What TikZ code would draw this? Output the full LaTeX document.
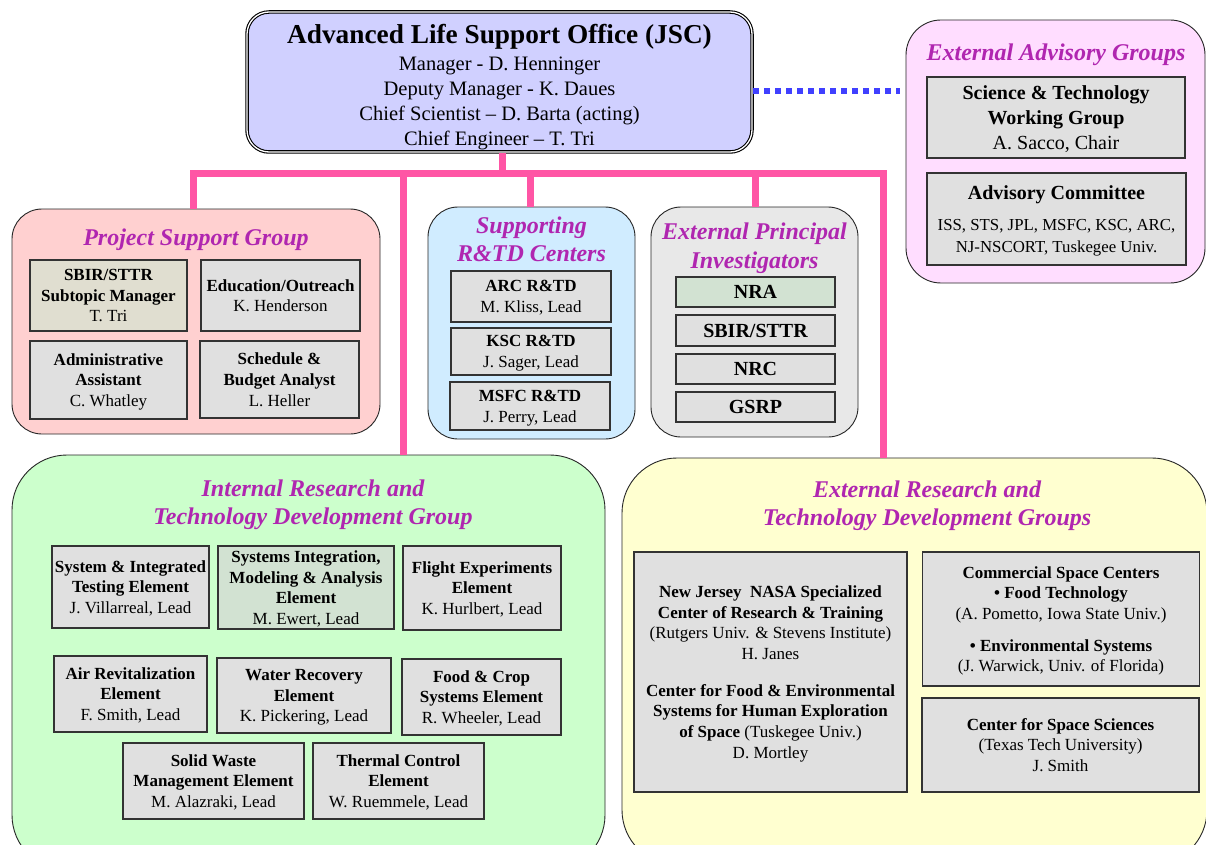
\documentclass[tikz,border=0pt]{standalone}
\usepackage{fontspec}
\setmainfont{Liberation Serif}
\definecolor{lav}{RGB}{208,208,255}
\definecolor{advpink}{RGB}{255,221,255}
\definecolor{psgpink}{RGB}{255,208,208}
\definecolor{supblue}{RGB}{208,236,255}
\definecolor{pigray}{RGB}{232,232,232}
\definecolor{intgreen}{RGB}{204,255,204}
\definecolor{extyel}{RGB}{255,255,208}
\definecolor{gbox}{RGB}{224,224,224}
\definecolor{beige}{RGB}{224,222,208}
\definecolor{pgreen}{RGB}{210,226,210}
\definecolor{pinkc}{RGB}{255,85,165}
\definecolor{bluec}{RGB}{64,64,255}
\definecolor{tpurp}{RGB}{176,38,176}
\begin{document}
\begin{tikzpicture}[x=1pt,y=-1pt,
  grp/.style={draw=black!85, line width=0.9pt, inner sep=0pt},
  ib/.style={draw=black!80, line width=1.4pt, fill=gbox, inner sep=0pt, align=center, text depth=0pt, font=\fontsize{17}{20.7}\selectfont},
  ttl/.style={text=tpurp, align=center, font=\fontsize{24}{28.5}\selectfont\bfseries\itshape, inner sep=0pt},
  pk/.style={draw=pinkc, line width=7pt},
  dotline/.style={draw=bluec, line width=6pt, dash pattern=on 6pt off 5pt}]
\useasboundingbox (0,0) rectangle (1206,845);
\fill[white] (0,0) rectangle (1206,845);
\clip (0,0) rectangle (1206,845);

% ---------- group containers ----------
\node[grp, fill=psgpink, rounded corners=30pt, minimum width=368, minimum height=225] (psg) at (196,321.5) {};
\node[grp, fill=supblue, rounded corners=30pt, minimum width=207, minimum height=232] (sup) at (531.5,323) {};
\node[grp, fill=pigray, rounded corners=30pt, minimum width=207, minimum height=230] (epi) at (754.5,322) {};
\node[grp, fill=intgreen, rounded corners=55pt, minimum width=593, minimum height=415] (int) at (308.5,662.5) {};
\node[grp, fill=extyel, rounded corners=55pt, minimum width=585, minimum height=407] (ert) at (914.5,661.5) {};
\node[grp, fill=advpink, rounded corners=35pt, minimum width=299, minimum height=263] (eag) at (1055.5,151.5) {};

% ---------- top office ----------
\node[draw=black, double=white, double distance=1.3pt, line width=1.1pt, fill=lav, rounded corners=22pt,
      minimum width=505, minimum height=140, inner sep=0pt, align=center, text depth=0pt,
      font=\fontsize{20.5}{25}\selectfont] (alo) at (499.5,82)
  {\rule{0pt}{25pt}{\fontsize{27.3}{25}\selectfont\bfseries Advanced Life Support Office (JSC)}\\[1.5pt]
   Manager - D. Henninger\\
   Deputy Manager - K. Daues\\
   Chief Scientist – D. Barta (acting)\\
   Chief Engineer – T. Tri};

% ---------- connectors ----------
\coordinate (j0) at (502,174);
\coordinate (j1) at (193,174);
\coordinate (j2) at (403,174);
\coordinate (j3) at (530,174);
\coordinate (j4) at (755,174);
\coordinate (j5) at (883,174);
\draw[pk] (alo.south -| j0) -- (j0);
\draw[pk] (j1 |- psg.north) -- (j1) -- (j5) -- (j5 |- ert.north);
\draw[pk] (j2) -- (j2 |- int.north);
\draw[pk] (j3) -- (j3 |- sup.north);
\draw[pk] (j4) -- (j4 |- epi.north);
\coordinate (b1) at (753,91);
\coordinate (b2) at (900,91);
\draw[dotline] (b1) -- (b2);

% ---------- external advisory ----------
\node[ttl] (eagT) at (1056,55) {External Advisory Groups};
\node[ib, minimum width=258, minimum height=81, text depth=-2pt, font=\fontsize{20}{25}\selectfont] (stwg) at (1056,117.5)
  {\textbf{Science \& Technology}\\\textbf{Working Group}\\A. Sacco, Chair};
\node[ib, minimum width=259, minimum height=92, text depth=-2.5pt, font=\fontsize{16.8}{22}\selectfont] (advc) at (1056.5,219)
  {{\fontsize{20}{25}\selectfont\bfseries Advisory Committee}\\[9pt]ISS, STS, JPL, MSFC, KSC, ARC,\\NJ-NSCORT, Tuskegee Univ.};

% ---------- project support ----------
\node[ttl] (psgT) at (196,240) {Project Support Group};
\node[ib, fill=beige, minimum width=157, minimum height=71] (sbir) at (108.5,295.5)
  {\textbf{SBIR/STTR}\\\textbf{Subtopic Manager}\\T. Tri};
\node[ib, minimum width=159, minimum height=71] (edu) at (280.5,295.5)
  {\textbf{Education/Outreach}\\K. Henderson};
\node[ib, minimum width=157, minimum height=78] (adm) at (108.5,380)
  {\textbf{Administrative}\\\textbf{Assistant}\\C. Whatley};
\node[ib, minimum width=159, minimum height=77] (sch) at (279.5,379.5)
  {\textbf{Schedule \&}\\\textbf{Budget Analyst}\\L. Heller};

% ---------- supporting centers ----------
\node[ttl] (supT) at (531.5,239.5) {Supporting\\R\&TD Centers};
\node[ib, minimum width=160, minimum height=51] (arc) at (531,296.5) {\textbf{ARC R\&TD}\\M. Kliss, Lead};
\node[ib, minimum width=160, minimum height=47] (ksc) at (531,351.5) {\textbf{KSC R\&TD}\\J. Sager, Lead};
\node[ib, minimum width=160, minimum height=48] (msfc) at (530,406) {\textbf{MSFC R\&TD}\\J. Perry, Lead};

% ---------- external PIs ----------
\node[ttl] (epiT) at (754.5,248) {External Principal\\Investigators};
\node[ib, fill=pgreen, minimum width=159, minimum height=30, font=\fontsize{20}{24}\selectfont\bfseries] (nra) at (755.5,292) {NRA};
\node[ib, minimum width=159, minimum height=31, font=\fontsize{20}{24}\selectfont\bfseries] (sbir2) at (755.5,330.5) {SBIR/STTR};
\node[ib, minimum width=159, minimum height=30, font=\fontsize{20}{24}\selectfont\bfseries] (nrc) at (755.5,369) {NRC};
\node[ib, minimum width=159, minimum height=30, font=\fontsize{20}{24}\selectfont\bfseries] (gsrp) at (755.5,407) {GSRP};

% ---------- internal R&TD ----------
\node[ttl] (intT) at (313,505) {Internal Research and\\Technology Development Group};
\node[ib, minimum width=157, minimum height=82] (sit) at (130.5,587)
  {\textbf{System \& Integrated}\\\textbf{Testing Element}\\J. Villarreal, Lead};
\node[ib, fill=pgreen, minimum width=176, minimum height=83] (sima) at (306,587.5)
  {\textbf{Systems Integration,}\\\textbf{Modeling \& Analysis}\\\textbf{Element}\\M. Ewert, Lead};
\node[ib, minimum width=158, minimum height=84] (flt) at (482,588)
  {\textbf{Flight Experiments}\\\textbf{Element}\\K. Hurlbert, Lead};
\node[ib, minimum width=153, minimum height=76] (air) at (130.5,694)
  {\textbf{Air Revitalization}\\\textbf{Element}\\F. Smith, Lead};
\node[ib, minimum width=174, minimum height=75] (wat) at (304,695.5)
  {\textbf{Water Recovery}\\\textbf{Element}\\K. Pickering, Lead};
\node[ib, minimum width=159, minimum height=76] (food) at (481.5,697)
  {\textbf{Food \& Crop}\\\textbf{Systems Element}\\R. Wheeler, Lead};
\node[ib, minimum width=181, minimum height=76] (sw) at (213.5,781)
  {\textbf{Solid Waste}\\\textbf{Management Element}\\M. Alazraki, Lead};
\node[ib, minimum width=171, minimum height=76] (thc) at (398.5,781)
  {\textbf{Thermal Control}\\\textbf{Element}\\W. Ruemmele, Lead};

% ---------- external R&TD ----------
\node[ttl] (ertT) at (927,506) {External Research and\\Technology Development Groups};
\node[ib, minimum width=273, minimum height=240, text depth=-2pt] (nj) at (770.5,672)
  {\textbf{New Jersey\ \ NASA Specialized}\\\textbf{Center of Research \& Training}\\(Rutgers Univ. \& Stevens Institute)\\H. Janes\\[16pt]
   \textbf{Center for Food \& Environmental}\\\textbf{Systems for Human Exploration}\\\textbf{of Space} (Tuskegee Univ.)\\D. Mortley};
\node[ib, minimum width=277, minimum height=134, text depth=-2pt] (csc) at (1061,619)
  {\textbf{Commercial Space Centers}\\\textbf{• Food Technology}\\(A. Pometto, Iowa State Univ.)\\[11pt]
   \textbf{• Environmental Systems}\\(J. Warwick, Univ. of Florida)};
\node[ib, minimum width=277, minimum height=94] (css) at (1060.5,745)
  {\textbf{Center for Space Sciences}\\(Texas Tech University)\\J. Smith};
\end{tikzpicture}
\end{document}
